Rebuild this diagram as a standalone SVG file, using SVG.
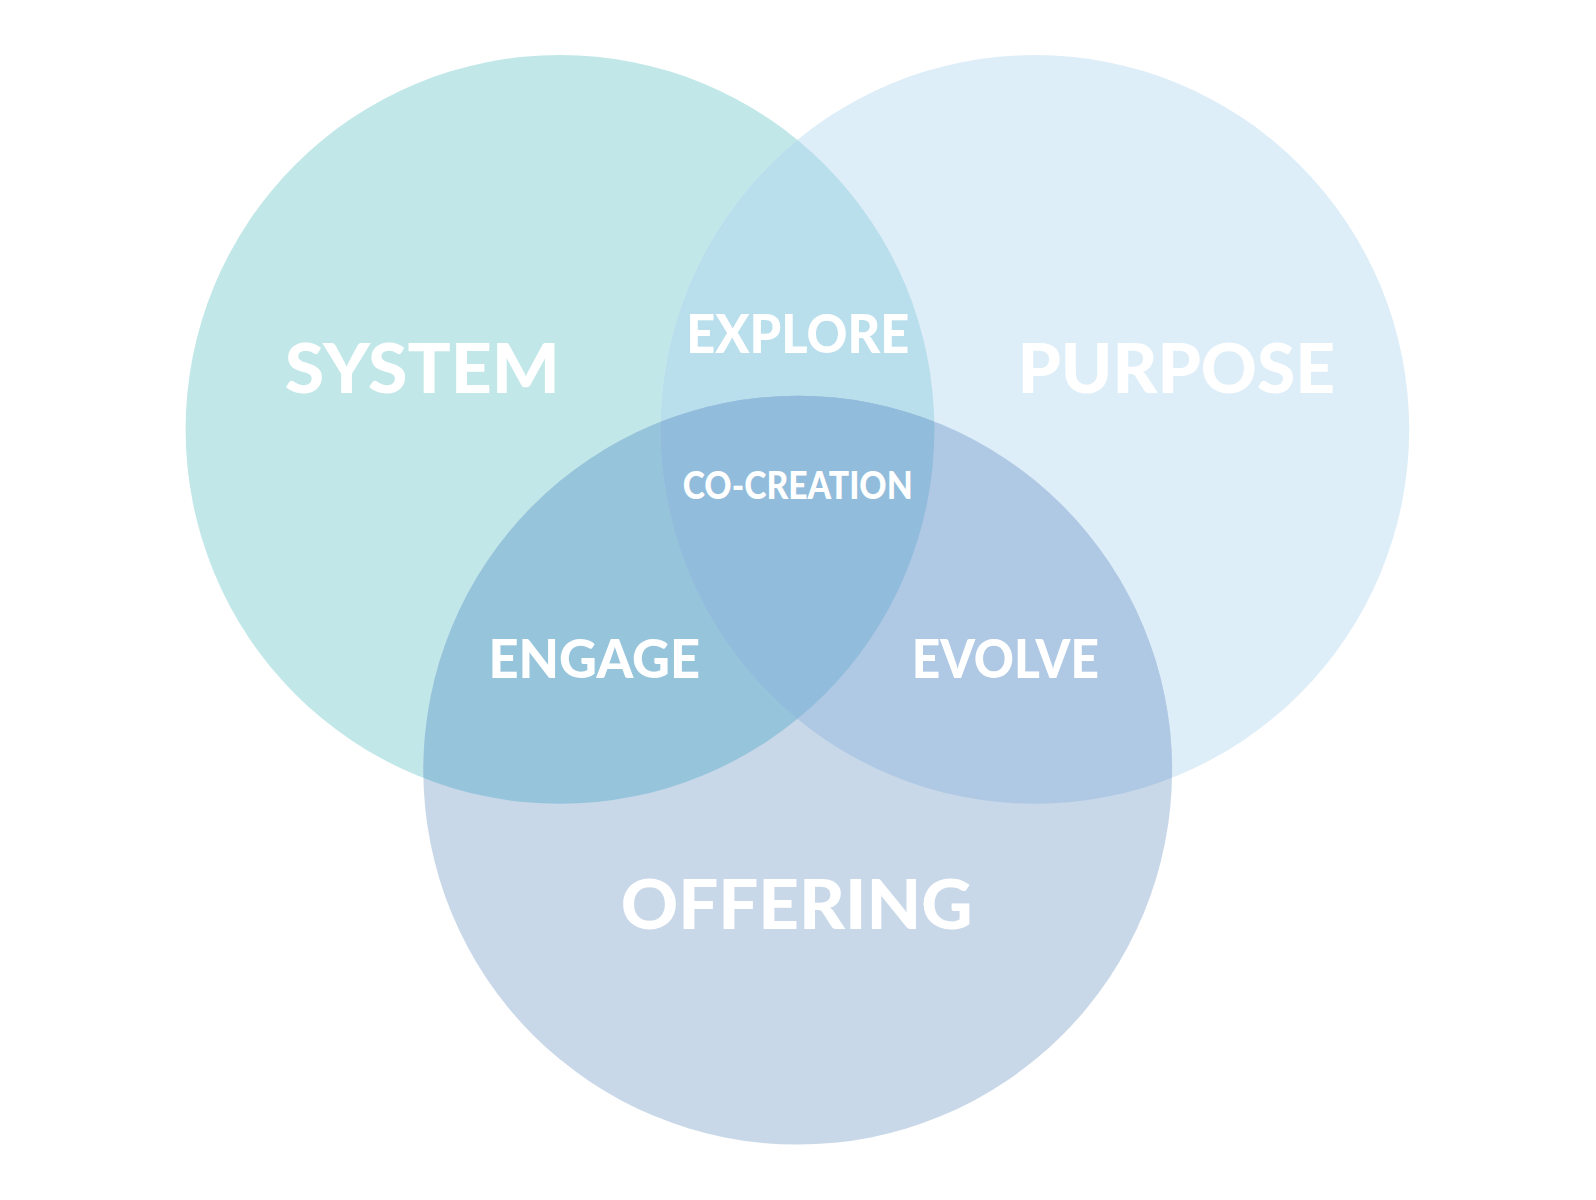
<svg xmlns="http://www.w3.org/2000/svg" width="1596" height="1200" viewBox="0 0 1596 1200">
<style>
.lbl{fill:#ffffff;font-family:Lato,"Open Sans","DejaVu Sans",sans-serif;font-weight:900;text-anchor:middle}
.big{font-size:69px}
.mid{font-size:53px}
.sm{font-size:37.6px}
</style>
<defs>
<clipPath id="cS"><circle cx="560" cy="429.4" r="374.4"/></clipPath>
<clipPath id="cP"><circle cx="1034.8" cy="429.4" r="374.4"/></clipPath>
</defs>
<rect width="1596" height="1200" fill="#ffffff"/>
<g id="system"><circle cx="560" cy="429.4" r="374.4" fill="#C1E7E8"/></g>
<g id="purpose"><circle cx="1034.8" cy="429.4" r="374.4" fill="#DEEEF8"/></g>
<g id="offering"><circle cx="797.7" cy="770.2" r="374.4" fill="#C8D8E8"/></g>
<g id="explore-region" clip-path="url(#cS)"><circle cx="1034.8" cy="429.4" r="374.4" fill="#BADFEC"/></g>
<g id="engage-region" clip-path="url(#cS)"><circle cx="797.7" cy="770.2" r="374.4" fill="#96C4DB"/></g>
<g id="evolve-region" clip-path="url(#cP)"><circle cx="797.7" cy="770.2" r="374.4" fill="#AFC9E5"/></g>
<g id="cocreation-region" clip-path="url(#cS)"><g clip-path="url(#cP)"><circle cx="797.7" cy="770.2" r="374.4" fill="#92BCDB"/></g></g>
<g id="connectors"></g>
<g id="labels">
<text class="lbl big" x="422.3" y="392.8" textLength="275" lengthAdjust="spacingAndGlyphs">SYSTEM</text>
<text class="lbl big" x="1176.2" y="392.8" textLength="317.5" lengthAdjust="spacingAndGlyphs">PURPOSE</text>
<text class="lbl big" x="796.7" y="929" textLength="352" lengthAdjust="spacingAndGlyphs">OFFERING</text>
<text class="lbl mid" x="797.7" y="353.1" textLength="223" lengthAdjust="spacingAndGlyphs">EXPLORE</text>
<text class="lbl mid" x="594.2" y="677.7" textLength="211.6" lengthAdjust="spacingAndGlyphs">ENGAGE</text>
<text class="lbl mid" x="1005.3" y="677.7" textLength="187.2" lengthAdjust="spacingAndGlyphs">EVOLVE</text>
<text class="lbl sm" x="797.7" y="498.6" textLength="230" lengthAdjust="spacingAndGlyphs">CO-CREATION</text>
</g>
</svg>
